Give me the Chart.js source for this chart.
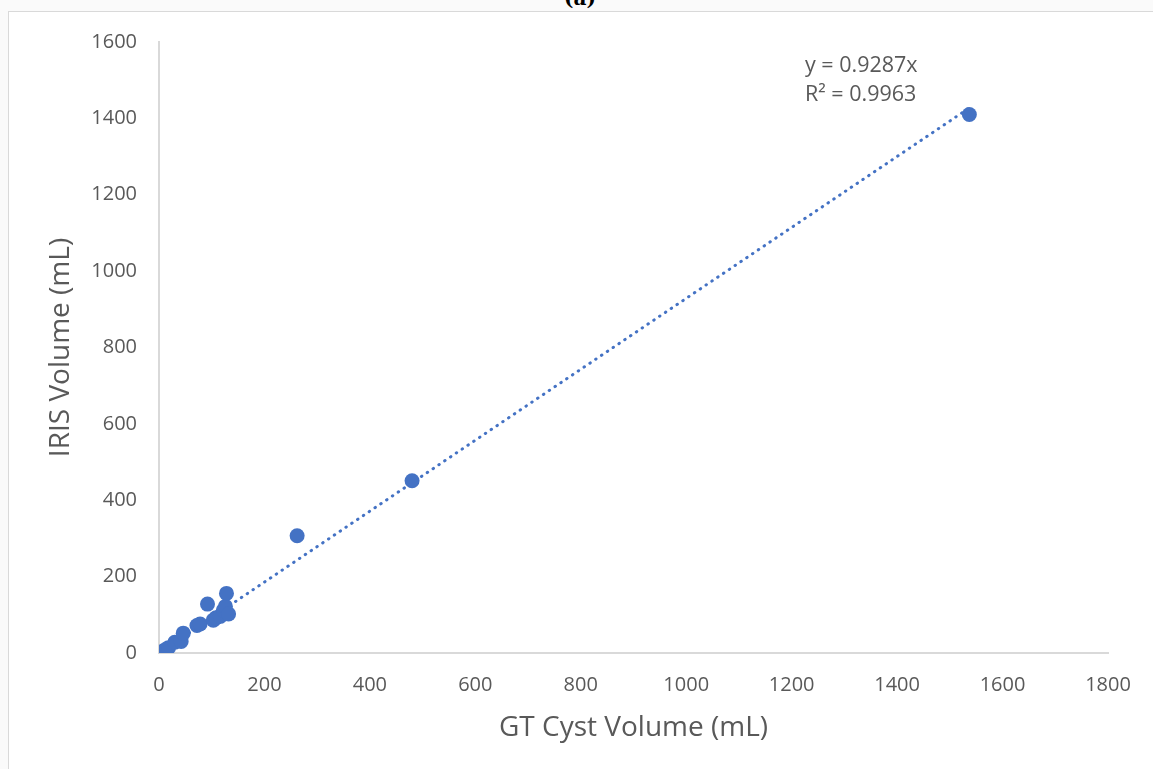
<!DOCTYPE html>
<html>
<head>
<meta charset="utf-8">
<script src="https://cdn.jsdelivr.net/npm/chart.js@4"></script>
<style>
  body { margin: 0; background: #fafafa; overflow: hidden; }
  .frame {
    position: absolute; left: 8px; top: 11px; width: 1200px; height: 800px;
    border: 1.5px solid #d9d9d9; background: #fff;
  }
  .fig-label {
    position: absolute; top: -14px; left: 0; width: 1160px; text-align: center;
    font: bold 20px "DejaVu Serif", serif; color: #000;
  }
  canvas { position: absolute; left: 0; top: 0; }
</style>
</head>
<body>
<div class="fig-label">(a)</div>
<div class="frame"></div>
<canvas id="chart" width="1153" height="769"></canvas>
<script>
// GT cyst volume vs IRIS volume (mL)
const gtVolume   = [2, 6, 10, 18, 30, 42, 46, 72, 78, 92, 103, 108, 116, 122, 126, 128, 132, 262, 480, 1537];
const irisVolume = [1, 3, 7, 14, 28, 30, 52, 72, 76, 128, 86, 92, 96, 112, 122, 156, 102, 307, 451, 1410];

// linear trendline through origin
const slope = 0.9287;
const rSquared = 0.9963;

const xTicks = [0, 200, 400, 600, 800, 1000, 1200, 1400, 1600, 1800];
const yTicks = [0, 200, 400, 600, 800, 1000, 1200, 1400, 1600];

const blue = '#4472C4';
const grey = '#595959';

const points = gtVolume.map((x, i) => ({ x: x, y: irisVolume[i] }));
const xMin = Math.min(...gtVolume);
const xMax = Math.max(...gtVolume);
const trend = [xMin, xMax].map(x => ({ x: x, y: slope * x }));

// equation label, Excel style
const equationLabel = {
  id: 'equationLabel',
  afterDraw(chart) {
    const ctx = chart.ctx;
    ctx.save();
    ctx.fillStyle = grey;
    ctx.font = '21.5px "Open Sans"';
    ctx.textAlign = 'left';
    ctx.textBaseline = 'alphabetic';
    ctx.fillText('y = ' + slope + 'x', 805, 72);
    ctx.fillText('R² = ' + rSquared, 805, 101);
    ctx.restore();
  }
};

new Chart(document.getElementById('chart'), {
  type: 'scatter',
  data: {
    datasets: [
      {
        label: 'IRIS',
        data: points,
        backgroundColor: blue,
        borderColor: blue,
        pointRadius: 7.5,
        pointBorderWidth: 0
      },
      {
        label: 'Linear',
        data: trend,
        showLine: true,
        pointRadius: 0,
        borderColor: blue,
        borderWidth: 3,
        borderDash: [0.5, 6.5],
        borderCapStyle: 'round'
      }
    ]
  },
  options: {
    responsive: false,
    animation: false,
    layout: { padding: { left: 40, top: 42, right: 45, bottom: 20 } },
    plugins: { legend: { display: false }, tooltip: { enabled: false } },
    scales: {
      x: {
        type: 'linear',
        min: 0, max: 1800,
        afterBuildTicks: s => { s.ticks = xTicks.map(v => ({ value: v })); },
        afterFit: s => { s.height = 96; },
        grid: { display: false, drawTicks: false },
        border: { display: true, color: '#d9d9d9', width: 2 },
        ticks: { color: grey, padding: 20, font: { family: 'Open Sans', size: 20 }, callback: v => String(v) },
        title: {
          display: true, text: 'GT Cyst Volume (mL)', color: grey,
          font: { family: 'Open Sans', size: 28 }, padding: { top: 4, bottom: 4 }
        }
      },
      y: {
        type: 'linear',
        min: 0, max: 1600,
        afterBuildTicks: s => { s.ticks = yTicks.map(v => ({ value: v })); },
        afterFit: s => { s.width = 119; },
        grid: { display: false, drawTicks: false },
        border: { display: true, color: '#d9d9d9', width: 2 },
        ticks: { color: grey, padding: 22, font: { family: 'Open Sans', size: 20 }, callback: v => String(v) },
        title: {
          display: true, text: 'IRIS Volume (mL)', color: grey,
          font: { family: 'Open Sans', size: 28 }, padding: { top: 4, bottom: 4 }
        }
      }
    }
  },
  plugins: [equationLabel]
});
</script>
</body>
</html>
